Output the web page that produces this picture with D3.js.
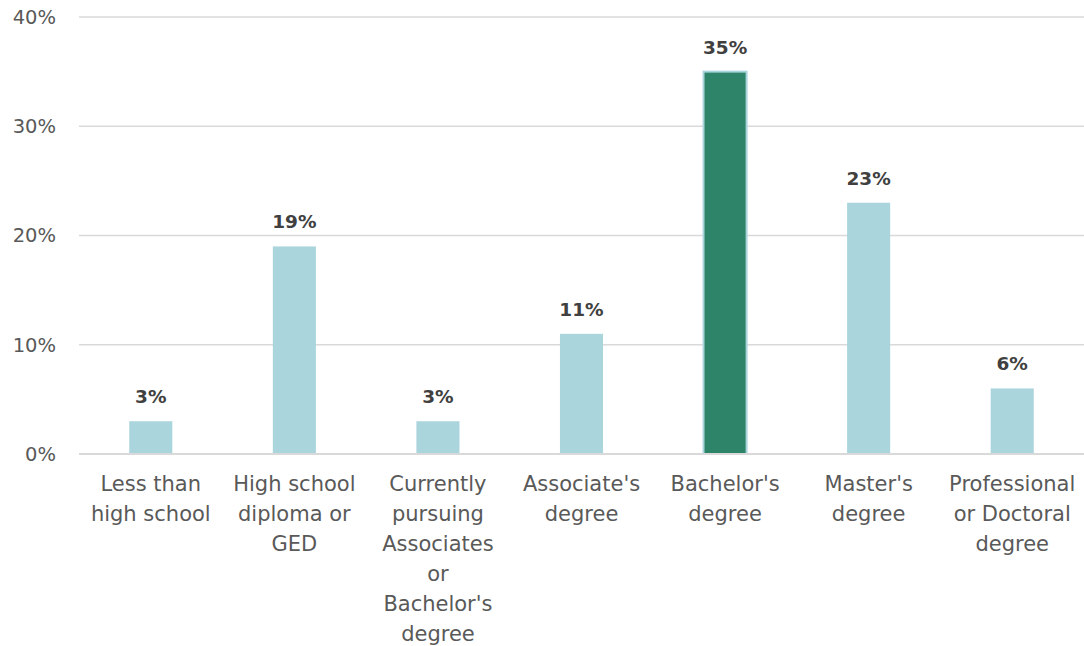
<!DOCTYPE html>
<html><head><meta charset="utf-8">
<script src="https://cdn.jsdelivr.net/npm/d3@7"></script>
<style>body{margin:0;background:#fff}svg{display:block}</style>
</head><body>
<svg id="c" width="1084" height="646"></svg>
<script>
const categories = ["Less than high school","High school diploma or GED","Currently pursuing Associates or Bachelor's degree","Associate's degree","Bachelor's degree","Master's degree","Professional or Doctoral degree"];
const categoryLines = [["Less than","high school"],["High school","diploma or","GED"],["Currently","pursuing","Associates","or","Bachelor's","degree"],["Associate's","degree"],["Bachelor's","degree"],["Master's","degree"],["Professional","or Doctoral","degree"]];
const values = [3,19,3,11,35,23,6];
const highlight = [false,false,false,false,true,false,false];
const yTicks = [0,10,20,30,40];

const svg = d3.select("#c");
const m = {left:79, right:0, top:17, bottom:192};
const W = 1084, H = 646;
const x = d3.scaleBand().domain(categories).range([m.left, W - m.right]).paddingInner(0.7).paddingOuter(0.35);
const y = d3.scaleLinear().domain([0,40]).range([H - m.bottom, m.top]);
const font = "'DejaVu Sans',sans-serif";

// grid
svg.append("g").selectAll("line").data(yTicks).join("line")
  .attr("x1", m.left).attr("x2", W).attr("y1", d=>y(d)).attr("y2", d=>y(d))
  .attr("stroke", "#d9d9d9").attr("stroke-width", d=> d===0?2:1.3);
svg.append("g").selectAll("text").data(yTicks).join("text")
  .attr("x", 56).attr("y", d=>y(d)).attr("dy","0.35em").attr("text-anchor","end")
  .attr("font-family", font).attr("font-size", 19.5).attr("fill","#595959").text(d=>d+"%");

// bars
svg.append("g").selectAll("rect").data(values).join("rect")
  .attr("x", (d,i)=>x(categories[i])).attr("width", x.bandwidth())
  .attr("y", d=>y(d)).attr("height", d=>y(0)-y(d))
  .attr("fill", (d,i)=>highlight[i] ? "#2e8468" : "#aad5dc")
  .attr("stroke", (d,i)=>highlight[i] ? "#aad5dc" : "none").attr("stroke-width", 2);
svg.append("line").attr("x1", m.left).attr("x2", W).attr("y1", y(0)).attr("y2", y(0)).attr("stroke","#d9d9d9").attr("stroke-width",2);

// data labels
svg.append("g").selectAll("text").data(values).join("text")
  .attr("x", (d,i)=>x(categories[i]) + x.bandwidth()/2).attr("y", d=>y(d) - 18)
  .attr("text-anchor","middle").attr("font-family", font).attr("font-weight","bold")
  .attr("font-size", 18.5).attr("fill","#404040").text(d=>d+"%");

// x labels
const xl = svg.append("g").selectAll("text").data(categoryLines).join("text")
  .attr("text-anchor","middle").attr("font-family", font).attr("font-size", 21).attr("fill","#595959");
xl.each(function(lines,i){
  const t = d3.select(this);
  lines.forEach((l,j)=>{
    t.append("tspan").attr("x", x(categories[i]) + x.bandwidth()/2).attr("y", 491 + j*30).text(l);
  });
});
</script>
</body></html>
